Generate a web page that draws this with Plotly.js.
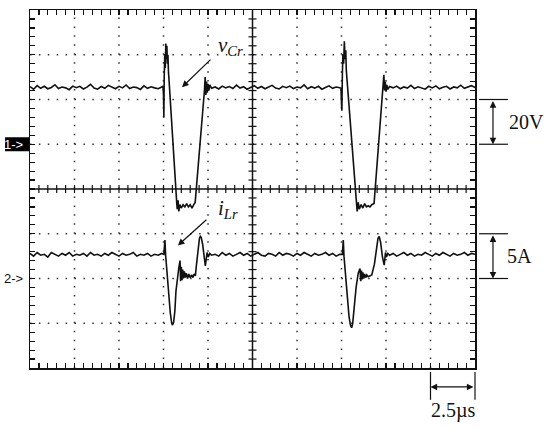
<!DOCTYPE html>
<html>
<head>
<meta charset="utf-8">
<script src="https://cdn.plot.ly/plotly-3.0.1.min.js"></script>
<style>
  body { margin: 0; background: white; }
  #scope { width: 550px; height: 430px; }
</style>
</head>
<body>
<div id="scope"></div>
<script>
// channel 1: resonant capacitor voltage (time in us, volts)
const tCr = [
  0, 0.2, 0.4, 0.6, 0.8, 1.0, 1.2, 1.4, 1.6, 1.8, 2.0, 2.2, 2.4, 2.6, 2.8, 3.0, 3.2, 3.4, 3.6, 3.8,
  4.0, 4.2, 4.4, 4.6, 4.8, 5.0, 5.2, 5.4, 5.6, 5.8, 6.0, 6.2, 6.4, 6.6, 6.8, 7.0, 7.2, 7.4,
  7.47, 7.50, 7.52, 7.54, 7.57, 7.60, 7.63, 7.66, 7.69, 7.72, 7.75, 7.78, 7.80,
  8.25, 8.27, 8.32, 8.36, 8.42, 8.5, 8.6, 8.7, 8.8, 8.9, 9.0, 9.1, 9.2, 9.28,
  9.80, 9.84, 9.88, 9.92, 9.96, 10.0, 10.05, 10.1, 10.2,
  10.4, 10.6, 10.8, 11.0, 11.2, 11.4, 11.6, 11.8, 12.0, 12.2, 12.4, 12.6, 12.8, 13.0, 13.2, 13.4,
  13.6, 13.8, 14.0, 14.2, 14.4, 14.6, 14.8, 15.0, 15.2, 15.4, 15.6, 15.8, 16.0, 16.2, 16.4, 16.6,
  16.8, 17.0, 17.2, 17.4,
  17.47, 17.50, 17.52, 17.55, 17.58, 17.62, 17.66, 17.70, 17.74, 17.77,
  18.36, 18.38, 18.44, 18.5, 18.6, 18.7, 18.8, 18.9, 19.0, 19.1, 19.2, 19.33,
  19.88, 19.92, 19.96, 20.0, 20.05, 20.1, 20.2,
  20.4, 20.6, 20.8, 21.0, 21.2, 21.4, 21.6, 21.8, 22.0, 22.2, 22.4, 22.6, 22.8, 23.0, 23.2, 23.4,
  23.6, 23.8, 24.0, 24.2, 24.4, 24.6, 24.8, 25.0
];
const vCr = [
  25.8, 24.6, 26.2, 25.0, 25.9, 24.8, 25.4, 26.6, 24.9, 25.6, 25.2, 24.4, 26.0, 25.3, 25.9, 24.7, 25.5, 26.8, 25.1, 24.6,
  25.8, 25.0, 26.3, 25.4, 24.8, 25.9, 25.2, 26.5, 24.9, 25.6, 25.3, 24.5, 26.1, 25.0, 25.7, 25.2, 24.8, 25.6,
  26.0, 22.0, 12.0, 30.0, 40.0, 34.0, 45.0, 38.0, 44.0, 36.0, 40.0, 32.0, 30.0,
  -27.0, -29.0, -25.0, -30.0, -27.0, -28.5, -27.0, -28.0, -26.5, -28.0, -27.0, -28.5, -27.0, -26.0,
  24.0, 30.0, 22.0, 28.0, 23.0, 27.0, 24.0, 26.5, 25.0,
  25.6, 24.7, 26.0, 25.2, 25.8, 24.9, 26.4, 25.1, 25.7, 24.6, 25.5, 26.2, 25.0, 25.8, 24.8, 25.4,
  26.3, 25.1, 24.7, 25.9, 25.3, 26.0, 24.9, 25.6, 25.2, 26.5, 24.8, 25.7, 25.1, 25.9, 24.6, 25.4,
  26.1, 25.0, 25.6, 25.3,
  25.0, 18.0, 15.0, 32.0, 40.0, 36.0, 46.0, 38.0, 42.0, 33.0,
  -28.0, -30.0, -26.0, -29.0, -27.0, -28.5, -26.5, -28.0, -27.5, -28.0, -27.0, -26.5,
  31.0, 24.0, 28.0, 23.5, 26.5, 24.5, 25.8,
  25.2, 26.0, 24.8, 25.6, 25.1, 26.3, 24.9, 25.7, 25.3, 24.6, 25.9, 25.2, 26.1, 24.8, 25.5, 25.9,
  24.7, 25.6, 25.2, 26.4, 25.0, 25.7, 26.2, 25.4
];

// channel 2: resonant inductor current (time in us, amps)
const tLr = [
  0, 0.2, 0.4, 0.6, 0.8, 1.0, 1.2, 1.4, 1.6, 1.8, 2.0, 2.2, 2.4, 2.6, 2.8, 3.0, 3.2, 3.4, 3.6, 3.8,
  4.0, 4.2, 4.4, 4.6, 4.8, 5.0, 5.2, 5.4, 5.6, 5.8, 6.0, 6.2, 6.4, 6.6, 6.8, 7.0, 7.2, 7.4, 7.52,
  7.58, 7.62, 7.70, 7.78, 7.88, 7.96, 8.01, 8.07, 8.14, 8.20, 8.31, 8.36, 8.43,
  8.46, 8.50, 8.54, 8.58, 8.62, 8.67, 8.72, 8.78, 8.85, 8.92, 9.0, 9.08, 9.15, 9.22, 9.29,
  9.35, 9.45, 9.52, 9.57, 9.62, 9.70, 9.78, 9.85, 9.95, 10.02, 10.1, 10.2,
  10.4, 10.6, 10.8, 11.0, 11.2, 11.4, 11.6, 11.8, 12.0, 12.2, 12.4, 12.6, 12.8, 13.0, 13.2, 13.4,
  13.6, 13.8, 14.0, 14.2, 14.4, 14.6, 14.8, 15.0, 15.2, 15.4, 15.6, 15.8, 16.0, 16.2, 16.4, 16.6,
  16.8, 17.0, 17.2, 17.4, 17.55,
  17.60, 17.64, 17.72, 17.82, 17.92, 18.0, 18.07, 18.13, 18.22, 18.32, 18.44, 18.54,
  18.58, 18.62, 18.66, 18.70, 18.75, 18.8, 18.86, 18.92, 19.0, 19.1, 19.2,
  19.35, 19.45, 19.55, 19.62, 19.70, 19.80, 19.90, 19.97, 20.03, 20.1, 20.2,
  20.4, 20.6, 20.8, 21.0, 21.2, 21.4, 21.6, 21.8, 22.0, 22.2, 22.4, 22.6, 22.8, 23.0, 23.2, 23.4,
  23.6, 23.8, 24.0, 24.2, 24.4, 24.6, 24.8, 25.0
];
const iLr = [
  2.8, 2.5, 2.9, 2.6, 2.7, 2.4, 2.9, 2.7, 2.5, 2.8, 2.6, 2.9, 2.5, 2.7, 2.6, 2.8, 2.5, 2.9, 2.6, 2.7,
  2.5, 2.8, 2.6, 2.9, 2.7, 2.5, 2.8, 2.6, 2.7, 2.9, 2.5, 2.7, 2.6, 2.8, 2.5, 2.7, 2.6, 2.8, 2.7,
  4.3, 2.6, 0.5, -1.4, -3.8, -5.0, -5.2, -4.9, -3.6, -1.4, 0.9, 1.2, 2.0,
  -0.3, 1.3, -0.2, 1.0, 0.0, 0.8, 0.1, 0.6, 0.0, 0.5, 0.1, 0.4, 0.1, 0.5, 0.3,
  1.5, 3.6, 4.5, 4.7, 4.6, 3.8, 2.2, 1.4, 2.9, 2.4, 2.8, 2.6,
  2.7, 2.5, 2.9, 2.6, 2.8, 2.5, 2.7, 2.9, 2.6, 2.8, 2.5, 2.7, 2.9, 2.6, 2.5, 2.8,
  2.7, 2.5, 2.9, 2.6, 2.8, 2.7, 2.5, 2.8, 2.6, 2.9, 2.7, 2.5, 2.8, 2.6, 2.7, 2.9,
  2.6, 2.8, 2.5, 2.7, 2.7,
  4.3, 2.5, 0.3, -2.0, -4.2, -5.2, -5.5, -5.0, -3.0, -1.0, 0.6, 1.1,
  -0.3, 0.9, -0.1, 0.7, 0.0, 0.5, 0.1, 0.4, 0.2, 0.3, 0.4,
  1.6, 3.3, 4.5, 4.7, 4.0, 2.4, 1.5, 2.9, 2.4, 2.8, 2.6,
  2.8, 2.5, 2.7, 2.9, 2.6, 2.8, 2.5, 2.7, 2.6, 2.9, 2.7, 2.5, 2.8, 2.6, 2.9, 2.7,
  2.5, 2.8, 2.6, 2.7, 2.9, 2.6, 2.8, 2.7
];

// scope settings
const voltsPerDiv = 20;
const ampsPerDiv = 5;
const usPerDiv = 2.5;
const ch1Ground = 1;   // divisions above screen centre
const ch2Ground = -2;

const serif = 'Liberation Serif, Times New Roman, serif';
const sans = 'Liberation Sans, Arial, sans-serif';

// axis ranges so that the grid is 10 x 8 divisions
const xRange = [0, 10 * usPerDiv];
const y1Range = [(-4 - ch1Ground) * voltsPerDiv, (4 - ch1Ground) * voltsPerDiv];
const y2Range = [(-4 - ch2Ground) * ampsPerDiv, (4 - ch2Ground) * ampsPerDiv];
const centreV = -ch1Ground * voltsPerDiv;
const centreT = 5 * usPerDiv;

const traces = [
  { x: tCr, y: vCr, type: 'scatter', mode: 'lines', line: { color: '#111', width: 1.6 }, yaxis: 'y', hoverinfo: 'skip' },
  { x: tLr, y: iLr, type: 'scatter', mode: 'lines', line: { color: '#111', width: 1.6 }, yaxis: 'y2', hoverinfo: 'skip' }
];

const shapes = [];

// dotted graticule
for (let i = 1; i < 10; i++) {
  if (i === 5) continue;
  shapes.push({ type: 'line', layer: 'below', xref: 'x', yref: 'y',
    x0: i * usPerDiv, x1: i * usPerDiv, y0: y1Range[0], y1: y1Range[1],
    line: { color: '#333', width: 1.5, dash: '1.5px,7.45px' } });
}
for (let j = 1; j < 8; j++) {
  if (j === 4) continue;
  const yv = y1Range[0] + j * voltsPerDiv;
  shapes.push({ type: 'line', layer: 'below', xref: 'x', yref: 'y',
    x0: 0, x1: xRange[1], y0: yv, y1: yv,
    line: { color: '#333', width: 1.5, dash: '1.5px,7.4px' } });
}

// solid centre lines with minor ticks
shapes.push({ type: 'line', layer: 'below', xref: 'x', yref: 'y', x0: 0, x1: xRange[1], y0: centreV, y1: centreV, line: { color: '#111', width: 1.5 } });
shapes.push({ type: 'line', layer: 'below', xref: 'x', yref: 'y', x0: centreT, x1: centreT, y0: y1Range[0], y1: y1Range[1], line: { color: '#111', width: 1.5 } });
for (let k = 1; k < 50; k++) {
  shapes.push({ type: 'line', layer: 'below', xref: 'x', yref: 'y', ysizemode: 'pixel', yanchor: centreV,
    x0: k * usPerDiv / 5, x1: k * usPerDiv / 5, y0: -4, y1: 4, line: { color: '#111', width: 1.2 } });
}
for (let k = 1; k < 40; k++) {
  const yv = y1Range[0] + k * voltsPerDiv / 5;
  shapes.push({ type: 'line', layer: 'below', xref: 'x', yref: 'y', xsizemode: 'pixel', xanchor: centreT,
    x0: -4, x1: 4, y0: yv, y1: yv, line: { color: '#111', width: 1.2 } });
}

// scale bars on the right and below
const barX0 = 1.009, barX1 = 1.074;
[[0, 'y'], [voltsPerDiv, 'y'], [0, 'y2'], [ampsPerDiv, 'y2']].forEach(function (b) {
  shapes.push({ type: 'line', xref: 'paper', yref: b[1], x0: barX0, x1: barX1, y0: b[0], y1: b[0], line: { color: '#111', width: 1.2 } });
});
[0.9, 1.0].forEach(function (px) {
  shapes.push({ type: 'line', xref: 'paper', yref: 'paper', x0: px, x1: px, y0: -0.011, y1: -0.089, line: { color: '#111', width: 1.2 } });
});

// channel marker box
shapes.push({ type: 'rect', xref: 'paper', yref: 'y', ysizemode: 'pixel', yanchor: 0,
  x0: -0.056, x1: -0.002, y0: -7, y1: 7, fillcolor: '#000', line: { width: 0 } });

const arrowStyle = { text: '', showarrow: true, arrowhead: 2, arrowsize: 1.1, arrowwidth: 1.2, arrowcolor: '#111', axref: 'pixel', ayref: 'pixel' };

const annotations = [
  // channel markers
  { xref: 'paper', yref: 'y', x: -0.0365, y: 0, xanchor: 'center', yanchor: 'middle', text: '1->', showarrow: false, font: { family: sans, size: 13, color: 'white' } },
  { xref: 'paper', yref: 'y2', x: -0.0365, y: 0, xanchor: 'center', yanchor: 'middle', text: '2->', showarrow: false, font: { family: sans, size: 13, color: '#111' } },
  // waveform labels
  { xref: 'x', yref: 'y', x: 10.45, y: 44, xanchor: 'left', text: '<i>v</i><sub><i>Cr</i></sub>', showarrow: false, font: { family: serif, size: 21, color: '#111' } },
  { xref: 'x', yref: 'y2', x: 10.45, y: 7.8, xanchor: 'left', text: '<i>i</i><sub><i>Lr</i></sub>', showarrow: false, font: { family: serif, size: 21, color: '#111' } },
  Object.assign({ xref: 'x', yref: 'y', x: 8.54, y: 25.5, ax: 30, ay: -29 }, arrowStyle),
  Object.assign({ xref: 'x', yref: 'y2', x: 8.31, y: 3.7, ax: 30, ay: -27 }, arrowStyle),
  // scale bars
  Object.assign({ xref: 'paper', yref: 'y', x: 1.0404, y: 0, ax: 0, ay: -44.7, arrowside: 'end+start' }, arrowStyle),
  Object.assign({ xref: 'paper', yref: 'y2', x: 1.0404, y: 0, ax: 0, ay: -44.7, arrowside: 'end+start' }, arrowStyle),
  Object.assign({ xref: 'paper', yref: 'paper', x: 0.9, y: -0.053, ax: 44.5, ay: 0, arrowside: 'end+start' }, arrowStyle),
  { xref: 'paper', yref: 'y', x: 1.115, y: voltsPerDiv / 2, xanchor: 'center', yanchor: 'middle', text: voltsPerDiv + 'V', showarrow: false, font: { family: serif, size: 20, color: '#111' } },
  { xref: 'paper', yref: 'y2', x: 1.101, y: ampsPerDiv / 2, xanchor: 'center', yanchor: 'middle', text: ampsPerDiv + 'A', showarrow: false, font: { family: serif, size: 20, color: '#111' } },
  { xref: 'paper', yref: 'paper', x: 0.951, y: -0.118, xanchor: 'center', yanchor: 'middle', text: usPerDiv + 'µs', showarrow: false, font: { family: serif, size: 20, color: '#111' } }
];

const layout = {
  width: 550,
  height: 430,
  margin: { l: 30, r: 75, t: 10, b: 62 },
  paper_bgcolor: 'white',
  plot_bgcolor: 'white',
  showlegend: false,
  xaxis: {
    range: xRange, showgrid: false, zeroline: false, showticklabels: false,
    showline: true, linecolor: '#111', linewidth: 1.5, mirror: 'ticks',
    ticks: 'inside', ticklen: 5, tickwidth: 1.2, tickcolor: '#111', tick0: 0, dtick: usPerDiv / 5
  },
  yaxis: {
    range: y1Range, showgrid: false, zeroline: false, showticklabels: false,
    showline: true, linecolor: '#111', linewidth: 1.5, mirror: 'ticks',
    ticks: 'inside', ticklen: 5, tickwidth: 1.2, tickcolor: '#111', tick0: 0, dtick: voltsPerDiv / 5
  },
  yaxis2: {
    range: y2Range, overlaying: 'y', showgrid: false, zeroline: false,
    showticklabels: false, showline: false, ticks: ''
  },
  shapes: shapes,
  annotations: annotations
};

Plotly.newPlot('scope', traces, layout, { staticPlot: true });
</script>
</body>
</html>
